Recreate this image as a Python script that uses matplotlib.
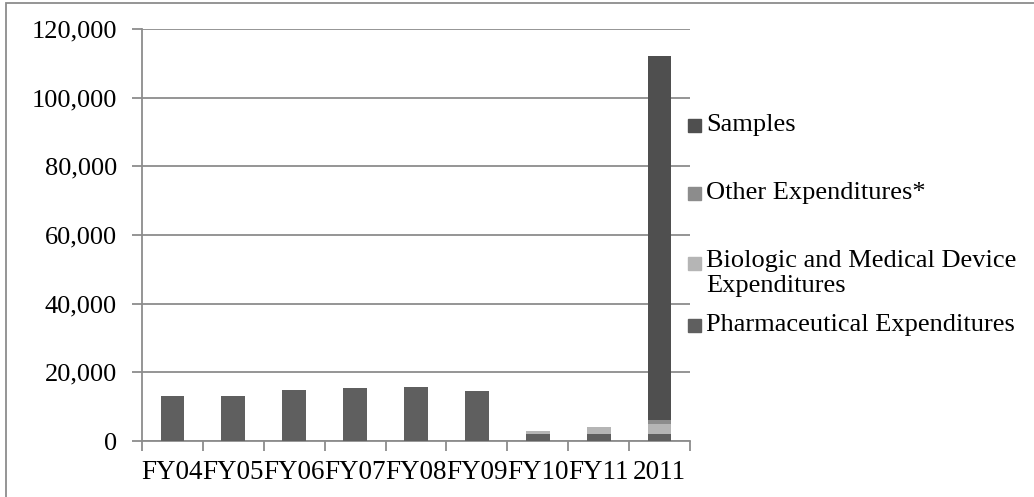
import numpy as np
import matplotlib.pyplot as plt
from matplotlib.patches import Rectangle

plt.rcParams['font.family'] = ['Liberation Serif', 'DejaVu Serif']

# Data
years = ["FY04", "FY05", "FY06", "FY07", "FY08", "FY09", "FY10", "FY11", "2011"]
pharma = [13000, 13000, 14900, 15300, 15700, 14500, 1950, 1900, 1900]
biologic = [0, 0, 0, 0, 0, 0, 1050, 2200, 3000]
other = [0, 0, 0, 0, 0, 0, 0, 0, 1100]
samples = [0, 0, 0, 0, 0, 0, 0, 0, 106100]
yticks = [0, 20000, 40000, 60000, 80000, 100000, 120000]

names = ["Pharmaceutical Expenditures", "Biologic and Medical Device\nExpenditures",
         "Other Expenditures*", "Samples"]
colors = ["#5f5f5f", "#b5b5b5", "#8c8c8c", "#4f4f4f"]

fig = plt.figure(figsize=(10.34, 4.97), dpi=100)
ax = fig.add_axes([142/1034, (497-441)/497, (690-142)/1034, (441-29)/497])

x = np.arange(len(years))
bottom = np.zeros(len(years))
for vals, c in zip([pharma, biologic, other, samples], colors):
    ax.bar(x, vals, width=0.39, bottom=bottom, color=c, zorder=3)
    bottom += np.array(vals)

ax.set_xlim(-0.5, len(years) - 0.5)
ax.set_ylim(0, 120000)
ax.set_yticks(yticks)
ax.set_yticklabels([f"{v:,}" for v in yticks])
ax.set_xticks(x)
ax.set_xticklabels(years)
ax.set_xticks(np.arange(-0.5, len(years)), minor=True)
ax.tick_params(axis='x', which='major', length=0, pad=14, labelsize=19.5, labelcolor='black')
ax.tick_params(axis='x', which='minor', length=7, width=1.3, color='#8c8c8c', direction='out')
ax.tick_params(axis='y', length=7, width=1.3, color='#8c8c8c', pad=11, labelsize=19, labelcolor='black')

ax.grid(axis='y', color='#8c8c8c', lw=1.3, zorder=0)
for s in ['top', 'right']:
    ax.spines[s].set_visible(False)
for s in ['left', 'bottom']:
    ax.spines[s].set_color('#8c8c8c')
    ax.spines[s].set_linewidth(1.3)

# legend, top to bottom, drawn by hand like the original
leg_y = [125, 193, 263, 325]
for name, c, yy in zip(names[::-1], colors[::-1], leg_y):
    fig.patches.append(Rectangle((688/1034, (497-yy-6.5)/497), 13/1034, 13/497,
                                 transform=fig.transFigure, color=c))
    if '\n' in name:
        fig.text(706/1034, (497-yy+13)/497, name, fontsize=19, va='top', ha='left',
                 linespacing=1.2)
    else:
        fig.text(706/1034, (497-yy)/497, name, fontsize=19, va='center', ha='left')

# outer border
fig.patches.append(Rectangle((6/1034, -0.1), 1.2, 1.1 - 3/497, transform=fig.transFigure,
                             fill=False, edgecolor='#8c8c8c', lw=1.3))

fig.savefig("out.png", dpi=100)
